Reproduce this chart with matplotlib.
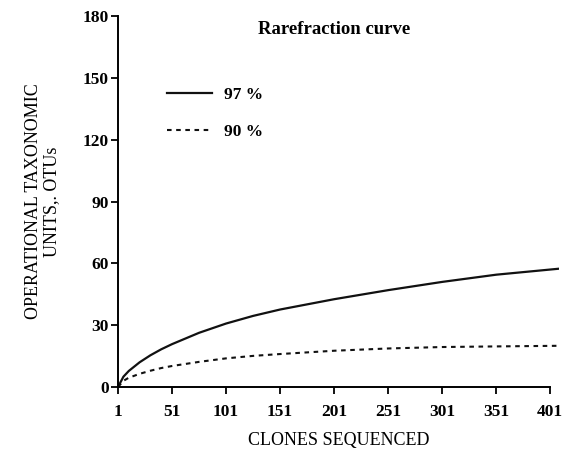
import matplotlib
matplotlib.use("Agg")
import matplotlib.pyplot as plt

# values
clones = [1, 6, 11, 21, 31, 41, 51, 76, 101, 126, 151, 201, 251, 301, 351, 409]
otu_97 = [0, 5, 7.8, 12, 15.4, 18.3, 20.8, 26.3, 30.8, 34.5, 37.6, 42.6, 47, 51, 54.5, 57.4]
otu_90 = [0, 3, 4.5, 6.4, 7.9, 9.2, 10.2, 12.2, 13.9, 15.1, 16, 17.6, 18.7, 19.4, 19.7, 20]

xticks = list(range(1, 402, 50))
yticks = list(range(0, 181, 30))

plt.rcParams["font.family"] = ["Liberation Serif", "DejaVu Serif"]

fig = plt.figure(figsize=(5.66, 4.58), dpi=100)
ax = fig.add_axes([0.2085, 0.155, 0.779, 0.81])

ax.plot(clones, otu_97, color="#111111", lw=1.6, label="97 %")
ax.plot(clones, otu_90, color="#111111", lw=1.5, linestyle=(0, (2.2, 2.2)), label="90 %")

ax.set_xlim(1, 409)
ax.set_ylim(0, 180)
ax.set_xticks(xticks)
ax.set_yticks(yticks)
ax.spines["bottom"].set_bounds(1, 401)
for s in ["top", "right"]:
    ax.spines[s].set_visible(False)
for s in ["left", "bottom"]:
    ax.spines[s].set_linewidth(1.4)
ax.tick_params(direction="out", length=5, width=1.3, labelsize=12.5)
ax.tick_params(axis="x", pad=7)
ax.tick_params(axis="y", pad=1.5)
for lab in ax.get_xticklabels() + ax.get_yticklabels():
    lab.set_fontweight("bold")

ax.set_xlabel("CLONES SEQUENCED", fontsize=13, labelpad=9)
ax.set_ylabel("OPERATIONAL TAXONOMIC\nUNITS,. OTUs", fontsize=13, labelpad=16, linespacing=1.1)

ax.text(0.49, 0.963, "Rarefraction curve", transform=ax.transAxes, ha="center",
        va="center", fontsize=13.5, fontweight="bold")

ax.legend(loc="upper left", bbox_to_anchor=(0.075, 0.85), frameon=False,
          handlelength=2.6, handletextpad=0.7, labelspacing=1.2,
          prop={"weight": "bold", "size": 12.5})

fig.savefig("out.png", dpi=100)
